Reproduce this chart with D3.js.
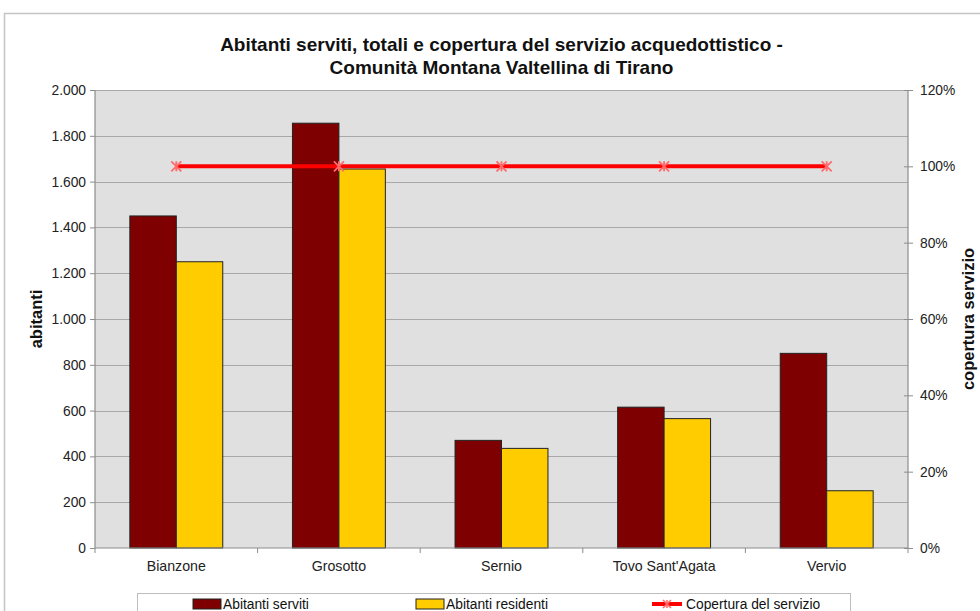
<!DOCTYPE html>
<html>
<head>
<meta charset="utf-8">
<script src="https://cdn.jsdelivr.net/npm/d3@7"></script>
<style>
  html, body { margin: 0; padding: 0; background: #ffffff; }
  svg { display: block; font-family: "Liberation Sans", Arial, sans-serif; }
</style>
</head>
<body>
<svg id="chart" width="980" height="611"></svg>
<script>
// Dati: abitanti serviti, residenti e copertura del servizio acquedottistico
const categories = ["Bianzone", "Grosotto", "Sernio", "Tovo Sant'Agata", "Vervio"];
const abitantiServiti = [1450, 1855, 470, 615, 850];
const abitantiResidenti = [1250, 1655, 435, 565, 250];
const copertura = [1, 1, 1, 1, 1];
const leftTicks = [0, 200, 400, 600, 800, 1000, 1200, 1400, 1600, 1800, 2000];
const rightTicks = [0, 0.2, 0.4, 0.6, 0.8, 1.0, 1.2];
const seriesNames = ["Abitanti serviti", "Abitanti residenti", "Copertura del servizio"];

const plot = { left: 95, right: 908, top: 90, bottom: 548 };

const svg = d3.select("#chart");

const it = d3.formatLocale({ decimal: ",", thousands: ".", grouping: [3], currency: ["€", ""] });
const fmtInt = it.format(",d");
const fmtPct = d3.format(".0%");

const x = d3.scaleBand().domain(categories).range([plot.left, plot.right]).paddingInner(0).paddingOuter(0);
const yL = d3.scaleLinear().domain([0, 2000]).range([plot.bottom, plot.top]);
const yR = d3.scaleLinear().domain([0, 1.2]).range([plot.bottom, plot.top]);

// gap width 150% between groups of two bars
const barW = x.bandwidth() / 3.5;

// chart frame
svg.append("rect")
  .attr("x", 4.5).attr("y", 13.5).attr("width", 1100).attr("height", 800)
  .attr("fill", "none").attr("stroke", "#c4c4c4").attr("stroke-width", 1.5);

// title
const cx = (plot.left + plot.right) / 2;
const title = svg.append("text")
  .attr("text-anchor", "middle")
  .attr("font-weight", "bold").attr("font-size", 19).attr("fill", "#111");
title.append("tspan").attr("x", cx).attr("y", 51)
  .text("Abitanti serviti, totali e copertura del servizio acquedottistico -");
title.append("tspan").attr("x", cx).attr("y", 74)
  .text("Comunità Montana Valtellina di Tirano");

// plot background
svg.append("rect")
  .attr("x", plot.left).attr("y", plot.top)
  .attr("width", plot.right - plot.left).attr("height", plot.bottom - plot.top)
  .attr("fill", "#e0e0e0");

// gridlines
svg.append("g")
  .selectAll("line").data(leftTicks.filter(d => d > 0)).join("line")
  .attr("x1", plot.left).attr("x2", plot.right)
  .attr("y1", d => Math.round(yL(d)) + 0.5).attr("y2", d => Math.round(yL(d)) + 0.5)
  .attr("stroke", "#a8a8a8").attr("stroke-width", 1);

// bars
const groups = svg.append("g").selectAll("g").data(categories).join("g")
  .attr("transform", d => `translate(${x(d) + x.bandwidth() / 2},0)`);

groups.append("rect")
  .attr("x", -barW).attr("width", barW)
  .attr("y", (d, i) => yL(abitantiServiti[i]))
  .attr("height", (d, i) => yL(0) - yL(abitantiServiti[i]))
  .attr("fill", "#7f0000").attr("stroke", "#222").attr("stroke-width", 1);

groups.append("rect")
  .attr("x", 0).attr("width", barW)
  .attr("y", (d, i) => yL(abitantiResidenti[i]))
  .attr("height", (d, i) => yL(0) - yL(abitantiResidenti[i]))
  .attr("fill", "#ffcc00").attr("stroke", "#222").attr("stroke-width", 1);

// axes
const axisColor = "#8c8c8c";
const gLeft = svg.append("g").attr("transform", `translate(${plot.left},0)`)
  .call(d3.axisLeft(yL).tickValues(leftTicks).tickFormat(fmtInt).tickSize(5).tickPadding(4));
const gRight = svg.append("g").attr("transform", `translate(${plot.right},0)`)
  .call(d3.axisRight(yR).tickValues(rightTicks).tickFormat(fmtPct).tickSize(5).tickPadding(7));
gRight.selectAll(".tick line").attr("x1", -4);
const gBottom = svg.append("g").attr("transform", `translate(0,${plot.bottom})`)
  .call(d3.axisBottom(x).tickSize(0).tickPadding(13));
// category boundary ticks
gBottom.selectAll(".bound").data(categories.concat(["__end"])).join("line")
  .attr("class", "bound")
  .attr("x1", (d, i) => plot.left + i * x.bandwidth()).attr("x2", (d, i) => plot.left + i * x.bandwidth())
  .attr("y1", 0).attr("y2", 5).attr("stroke", axisColor);

[gLeft, gRight, gBottom].forEach(g => {
  g.select(".domain").attr("stroke", axisColor).attr("stroke-width", 1.2);
  g.selectAll(".tick line").attr("stroke", axisColor);
  g.selectAll("text").attr("font-size", 13.8).attr("fill", "#222")
    .attr("font-family", "Liberation Sans, Arial, sans-serif");
});
gBottom.selectAll("text").attr("font-size", 14.2);
gRight.select(".domain").attr("d", `M0,${plot.top}V${plot.bottom}`);
gLeft.select(".domain").attr("d", `M0,${plot.top}V${plot.bottom}`);
gBottom.select(".domain").attr("d", `M${plot.left},0H${plot.right}`);

// axis titles
svg.append("text")
  .attr("transform", `translate(42,${(plot.top + plot.bottom) / 2}) rotate(-90)`)
  .attr("text-anchor", "middle").attr("font-weight", "bold").attr("font-size", 16.5)
  .attr("fill", "#111").text("abitanti");
svg.append("text")
  .attr("transform", `translate(974,${(plot.top + plot.bottom) / 2}) rotate(-90)`)
  .attr("text-anchor", "middle").attr("font-weight", "bold").attr("font-size", 16.5)
  .attr("fill", "#111").text("copertura servizio");

// coverage line
const line = d3.line()
  .x((d, i) => x(categories[i]) + x.bandwidth() / 2)
  .y(d => yR(d));
svg.append("path").datum(copertura)
  .attr("d", line).attr("fill", "none")
  .attr("stroke", "#ff0000").attr("stroke-width", 4);

const starPath = s => `M${-s},${-s}L${s},${s}M${-s},${s}L${s},${-s}M0,${-s}V${s}`;
svg.append("g").selectAll("path").data(copertura).join("path")
  .attr("transform", (d, i) => `translate(${x(categories[i]) + x.bandwidth() / 2},${yR(d)})`)
  .attr("d", starPath(5))
  .attr("fill", "none").attr("stroke", "#ff6a6a").attr("stroke-width", 1.8);

// legend
const lg = svg.append("g");
lg.append("rect").attr("x", 137.5).attr("y", 593.5).attr("width", 713).attr("height", 40)
  .attr("fill", "#ffffff").attr("stroke", "#bdbdbd").attr("stroke-width", 1);
const legendX = [193, 416, 652];
const ly = 604;
lg.append("rect").attr("x", legendX[0]).attr("y", ly - 5).attr("width", 28).attr("height", 10)
  .attr("fill", "#7f0000").attr("stroke", "#222");
lg.append("rect").attr("x", legendX[1]).attr("y", ly - 5).attr("width", 28).attr("height", 10)
  .attr("fill", "#ffcc00").attr("stroke", "#222");
lg.append("line").attr("x1", legendX[2]).attr("x2", legendX[2] + 30).attr("y1", ly).attr("y2", ly)
  .attr("stroke", "#ff0000").attr("stroke-width", 4);
lg.append("path").attr("transform", `translate(${legendX[2] + 15},${ly})`).attr("d", starPath(4))
  .attr("fill", "none").attr("stroke", "#ff6a6a").attr("stroke-width", 1.6);
lg.selectAll("text.lt").data(seriesNames).join("text").attr("class", "lt")
  .attr("x", (d, i) => legendX[i] + (i === 2 ? 34 : 30)).attr("y", ly + 5)
  .attr("font-size", 13.8).attr("fill", "#111").text(d => d);
</script>
</body>
</html>
